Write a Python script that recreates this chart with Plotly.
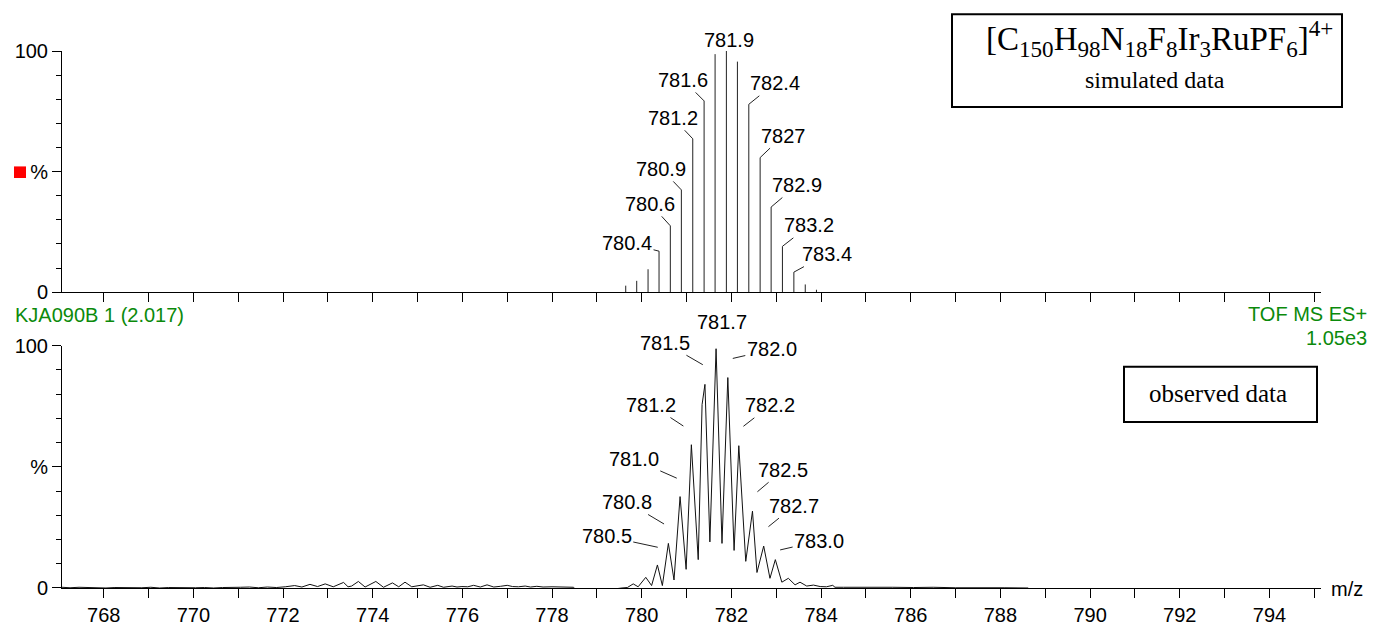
import plotly.graph_objects as go

# ---------------- data ----------------
# simulated isotope pattern (stick spectrum)
sim_mz = [779.643, 779.888, 780.141, 780.386, 780.638, 780.884, 781.138, 781.391, 781.636,
          781.888, 782.134, 782.388, 782.641, 782.886, 783.138, 783.393, 783.647, 783.897]
sim_pct = [2.7, 4.7, 9.5, 17.0, 27.5, 42.4, 63.6, 79.3, 98.7,
           100.0, 95.6, 77.9, 55.8, 35.3, 19.0, 8.3, 3.2, 1.0]

# observed profile spectrum
obs_mz = [767.07, 767.25, 767.45, 767.65, 767.85, 768.05, 768.25, 768.45, 768.65, 768.85,
          769.05, 769.25, 769.45, 769.65, 769.85, 770.05, 770.25, 770.45, 770.65, 770.85,
          771.05, 771.25, 771.45, 771.65, 771.85, 772.05, 772.26, 772.42, 772.6, 772.77,
          772.94, 773.12, 773.35, 773.45, 773.53, 773.68, 773.83, 774.07, 774.24, 774.44,
          774.58, 774.72, 774.87, 775.13, 775.28, 775.45, 775.58, 775.77, 775.88, 775.99,
          776.12, 776.25, 776.40, 776.55, 776.70, 776.85, 777.0, 777.12, 777.25, 777.40,
          777.52, 777.66, 777.8, 778.0, 778.2, 778.48, 778.52, 778.7, 778.89, 779.1,
          779.34, 779.56, 779.68, 779.81, 779.92, 780.09, 780.22, 780.35, 780.46, 780.594,
          780.72, 780.855, 780.99, 781.107, 781.26, 781.346, 781.41, 781.52, 781.658, 781.79,
          781.92, 782.06, 782.165, 782.32, 782.47, 782.57, 782.72, 782.86, 782.98, 783.125,
          783.27, 783.42, 783.53, 783.68, 783.83, 783.98, 784.12, 784.26, 784.31, 784.5,
          784.87, 785.2, 785.6, 786.06, 786.5, 787.0, 787.55, 788.1, 788.62]
obs_pct = [0.3, 0.1, 0.3, 0.1, 0.2, 0.0, 0.2, 0.1, 0.3, 0.1,
           0.3, 0.0, 0.2, 0.1, 0.3, 0.1, 0.2, 0.0, 0.2, 0.1,
           0.3, 0.4, 0.1, 0.4, 0.2, 0.5, 1.0, 0.4, 1.5, 0.6,
           1.7, 0.5, 2.3, 0.5, 0.8, 2.7, 0.4, 2.7, 0.3, 2.1,
           0.5, 2.4, 0.5, 1.3, 0.3, 1.1, 0.3, 0.8, 0.4, 0.6,
           0.5, 1.1, 0.4, 1.3, 0.4, 0.7, 1.1, 0.6, 0.5, 0.8,
           0.4, 0.7, 0.4, 0.5, 0.4, 0.3, -0.5, -0.6, -0.8, -0.5,
           -0.5, 0.0, 0.2, 1.7, 0.5, 4.4, 1.0, 9.5, 1.0, 18.4,
           3.3, 37.7, 7.7, 59.1, 11.7, 75.7, 84.0, 19.0, 98.7, 18.4,
           86.8, 15.5, 58.7, 11.0, 31.7, 6.4, 17.3, 4.0, 11.7, 2.4,
           4.0, 1.3, 2.4, 0.8, 1.2, 0.6, 0.5, 1.1, 0.3, 0.3,
           0.4, 0.2, 0.3, 0.2, 0.3, 0.1, 0.2, 0.1, 0.0]

# peak labels
sim_label_text = ["780.4", "780.6", "780.9", "781.2", "781.6", "782.4", "7827", "782.9", "783.2", "783.4"]
sim_label_idx = [3, 4, 5, 6, 7, 11, 12, 13, 14, 15]
sim_top_text, sim_top_idx = "781.9", 9

obs_label_text = ["781.5", "782.0", "781.2", "782.2", "781.0", "782.5", "780.8", "782.7", "780.5", "783.0"]
obs_top_text, obs_top_idx = "781.7", 88

x_tick_vals = list(range(768, 796, 2))
y_tick_vals = [0, 50, 100]
y_tick_text = ["0", "%", "100"]

# ---------------- layout helpers ----------------
W, H = 1374, 638
ML, MR, MT, MB = 62, 53, 51, 31
def px(x):
    return (x - ML) / (W - ML - MR)
def py(y):
    return (H - MB - y) / (H - MT - MB)

SANS = "Liberation Sans, Arial, sans-serif"
SERIF = "Liberation Serif, Times New Roman, serif"
GREEN = "#0b8a0b"
FS = 20

sim_label_offset = [(-32, -8), (-20, -22), (-20, -21), (-20, -21), (-21, -21),
                    (26, -21), (23, -22), (26, -22), (27, -21), (33, -18)]
# leader tip positions (m/z, %) and text offsets (px) for observed labels
obs_label_tip = [(781.362, 92.1), (782.031, 94.7), (780.929, 66.8), (782.268, 66.7),
                 (780.781, 45.3), (782.580, 39.7), (780.498, 26.4), (782.826, 25.3),
                 (780.357, 16.8), (783.087, 15.7)]
obs_label_offset = [(-38, -22), (39, -9), (-32, -21), (27, -21), (-43, -19),
                    (26, -22), (-37, -22), (26, -21), (-51, -11), (39, -9)]

# ---------------- traces ----------------
stick_x, stick_y = [], []
for m, p in zip(sim_mz, sim_pct):
    stick_x += [m, m, None]
    stick_y += [0, p, None]

fig = go.Figure()
fig.add_trace(go.Scatter(x=stick_x, y=stick_y, mode="lines",
                         line=dict(color="#222222", width=1),
                         xaxis="x", yaxis="y", hoverinfo="skip", showlegend=False))
fig.add_trace(go.Scatter(x=obs_mz, y=obs_pct, mode="lines",
                         line=dict(color="#111111", width=1),
                         xaxis="x2", yaxis="y2", showlegend=False))

ann = []
for t, i, (ax, ay) in zip(sim_label_text, sim_label_idx, sim_label_offset):
    ann.append(dict(x=sim_mz[i], y=sim_pct[i], xref="x", yref="y", text=t,
                    showarrow=True, arrowhead=0, arrowwidth=1, arrowcolor="#222",
                    standoff=0, ax=ax, ay=ay, font=dict(family=SANS, size=FS, color="black")))
ann.append(dict(x=sim_mz[sim_top_idx], y=sim_pct[sim_top_idx], xref="x", yref="y",
                text=sim_top_text, showarrow=False, yanchor="bottom", xshift=3, yshift=-2,
                font=dict(family=SANS, size=FS, color="black")))
for t, (tx, ty), (ax, ay) in zip(obs_label_text, obs_label_tip, obs_label_offset):
    ann.append(dict(x=tx, y=ty, xref="x2", yref="y2", text=t,
                    showarrow=True, arrowhead=0, arrowwidth=1, arrowcolor="#222",
                    standoff=0, ax=ax, ay=ay, font=dict(family=SANS, size=FS, color="black")))
ann.append(dict(x=obs_mz[obs_top_idx], y=obs_pct[obs_top_idx], xref="x2", yref="y2",
                text=obs_top_text, showarrow=False, yanchor="bottom", xshift=6, yshift=14,
                font=dict(family=SANS, size=FS, color="black")))

# green header texts
ann.append(dict(x=px(13), y=py(324), xref="paper", yref="paper", text="KJA090B 1 (2.017)",
                showarrow=False, xanchor="left", yanchor="middle",
                font=dict(family=SANS, size=FS, color=GREEN)))
ann.append(dict(x=px(1369), y=py(323), xref="paper", yref="paper", text="TOF MS ES+",
                showarrow=False, xanchor="right", yanchor="middle",
                font=dict(family=SANS, size=FS, color=GREEN)))
ann.append(dict(x=px(1369), y=py(348), xref="paper", yref="paper", text="1.05e3",
                showarrow=False, xanchor="right", yanchor="middle",
                font=dict(family=SANS, size=FS, color=GREEN)))
ann.append(dict(x=px(1329), y=py(608), xref="paper", yref="paper", text="m/z",
                showarrow=False, xanchor="left", yanchor="middle",
                font=dict(family=SANS, size=FS, color="black")))

# box texts
ann.append(dict(x=px(1159), y=py(64), xref="paper", yref="paper",
                text="[C<sub>150</sub>H<sub>98</sub>N<sub>18</sub>F<sub>8</sub>Ir<sub>3</sub>RuPF<sub>6</sub>]<sup>4+</sup>",
                showarrow=False, xanchor="center", yanchor="bottom",
                font=dict(family=SERIF, size=33, color="black")))
ann.append(dict(x=px(1155), y=py(81), xref="paper", yref="paper", text="simulated data",
                showarrow=False, xanchor="center", yanchor="middle",
                font=dict(family=SERIF, size=24, color="black")))
ann.append(dict(x=px(1218), y=py(406), xref="paper", yref="paper", text="observed data",
                showarrow=False, xanchor="center", yanchor="middle",
                font=dict(family=SERIF, size=25, color="black")))

shapes = [
    dict(type="rect", xref="paper", yref="paper", x0=px(952), x1=px(1342), y0=py(109), y1=py(13),
         line=dict(color="black", width=2), fillcolor="rgba(0,0,0,0)"),
    dict(type="rect", xref="paper", yref="paper", x0=px(1124), x1=px(1317), y0=py(435), y1=py(378),
         line=dict(color="black", width=2), fillcolor="rgba(0,0,0,0)"),
    dict(type="rect", xref="paper", yref="paper", x0=px(14), x1=px(26), y0=py(182.5), y1=py(170.5),
         line=dict(width=0), fillcolor="red"),
]

xrange = [767.07, 795.15]
xcommon = dict(range=xrange, showline=True, linecolor="black", linewidth=1,
               showgrid=False, zeroline=False, ticks="outside", ticklen=9, tickwidth=1,
               tickcolor="black", fixedrange=True,
               tickfont=dict(family=SANS, size=FS, color="black"))
ycommon = dict(range=[0, 100], showline=True, linecolor="black", linewidth=1,
               showgrid=False, zeroline=False, ticks="outside", ticklen=9, tickwidth=1,
               tickcolor="black", tickmode="array", tickvals=y_tick_vals, ticktext=y_tick_text,
               minor=dict(dtick=10, tick0=0, ticks="outside", ticklen=5, tickcolor="black", showgrid=False),
               fixedrange=True, tickfont=dict(family=SANS, size=FS, color="black"))

fig.update_layout(
    width=W, height=H,
    margin=dict(l=ML, r=MR, t=MT, b=MB),
    paper_bgcolor="white", plot_bgcolor="white",
    showlegend=False,
    xaxis=dict(xcommon, domain=[0, 1], anchor="y", dtick=1, tick0=767, showticklabels=False),
    yaxis=dict(ycommon, domain=[py(300.7), 1], anchor="x"),
    xaxis2=dict(xcommon, domain=[0, 1], anchor="y2", tickmode="array", tickvals=x_tick_vals,
                minor=dict(dtick=1, tick0=767, ticks="outside", ticklen=9, tickcolor="black", showgrid=False)),
    yaxis2=dict(ycommon, domain=[0, py(356)], anchor="x2"),
    annotations=ann,
    shapes=shapes,
)

fig.write_html("out.html", config={"displayModeBar": False},
               post_script="document.body.style.margin='0';document.body.style.overflow='hidden';")
